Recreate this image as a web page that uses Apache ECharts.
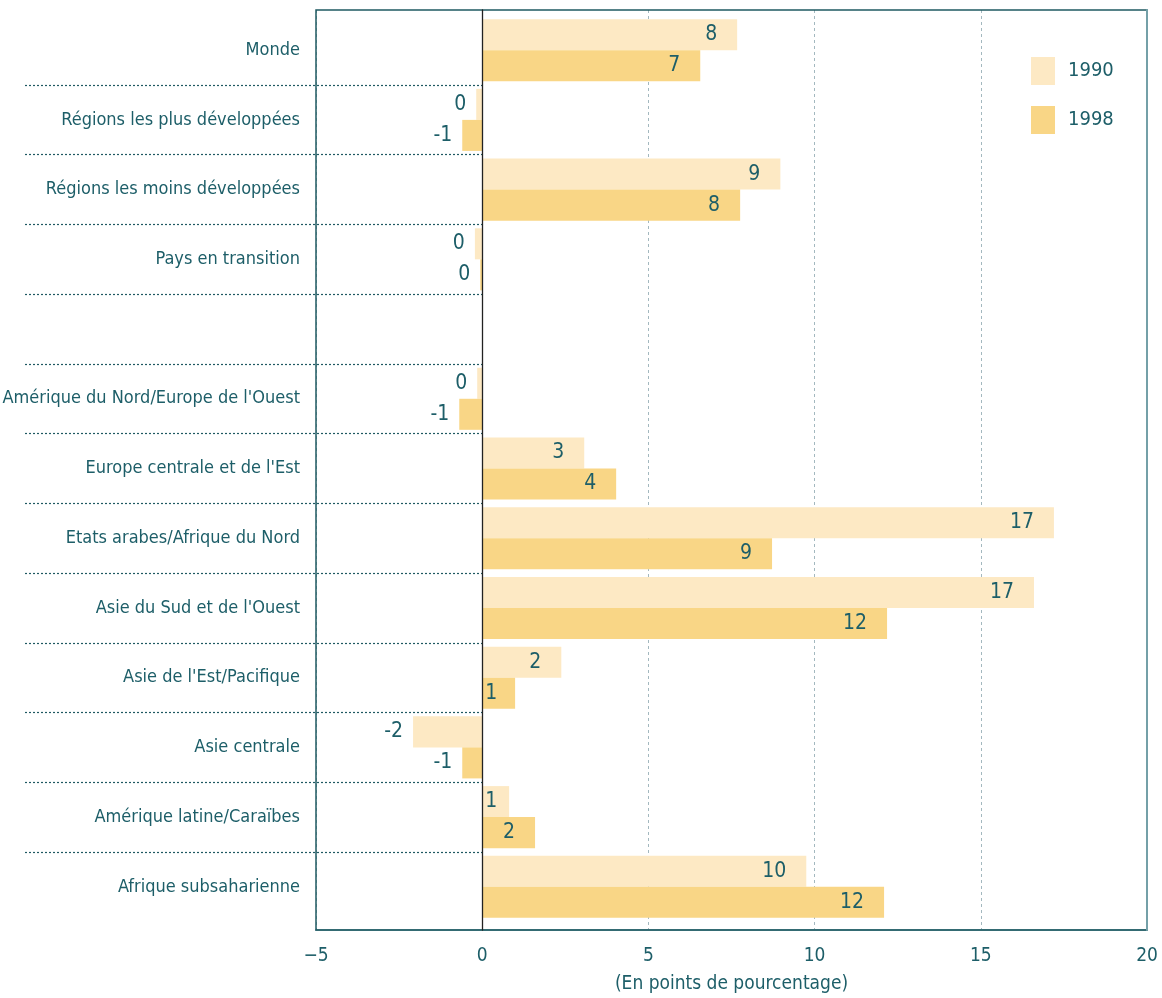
<!DOCTYPE html>
<html><head><meta charset="utf-8">
<script src="https://cdn.jsdelivr.net/npm/echarts@6/dist/echarts.min.js"></script>
<style>html,body{margin:0;padding:0;background:#fff}#c{width:1162px;height:998px}</style>
</head><body><div id="c"></div>
<script>
const categories = [
  "Monde",
  "Régions les plus développées",
  "Régions les moins développées",
  "Pays en transition",
  "",
  "Amérique du Nord/Europe de l'Ouest",
  "Europe centrale et de l'Est",
  "Etats arabes/Afrique du Nord",
  "Asie du Sud et de l'Ouest",
  "Asie de l'Est/Pacifique",
  "Asie centrale",
  "Amérique latine/Caraïbes",
  "Afrique subsaharienne"
];
const values1990 = [7.67, -0.18, 8.97, -0.22, null, -0.15, 3.07, 17.2, 16.6, 2.38, -2.08, 0.81, 9.75];
const values1998 = [6.56, -0.6, 7.76, -0.06, null, -0.69, 4.03, 8.72, 12.18, 0.99, -0.6, 1.59, 12.09];
const seriesNames = ["1990", "1998"];
const xMin = -5, xMax = 20, xInterval = 5;
const axisTitle = "(En points de pourcentage)";

const FONT = "'DejaVu Sans Condensed', 'Noto Sans', sans-serif";
const TEXT = '#1d5e68';
const frame = {left: 316, right: 15, top: 10, bottom: 68};
const W = 1162, H = 998;
const plotW = W - frame.left - frame.right;
const pxPerUnit = plotW / (xMax - xMin);
const zeroX = frame.left + (0 - xMin) * pxPerUnit;
// category band geometry (slightly inset inside the frame)
const dataTop = 15.3, dataBottom = 921.7;
const rowH = (dataBottom - dataTop) / categories.length;

function buildData(vals) {
  return vals.map(v => {
    if (v == null) return null;
    if (v < 0) return {value: v, label: {position: 'left', distance: 10}};
    const barLen = v * pxPerUnit;
    const txtW = String(Math.round(v)).length * 12;
    return {value: v, label: {position: 'insideRight', distance: Math.max(4, Math.min(20, barLen - txtW - 3))}};
  });
}

const chart = echarts.init(document.getElementById('c'), null, {renderer: 'canvas'});
chart.setOption({
  animation: false,
  backgroundColor: '#fff',
  textStyle: {fontFamily: FONT},
  grid: [
    {left: frame.left, right: frame.right, top: frame.top, bottom: frame.bottom, show: true,
     borderColor: '#1f5962', borderWidth: 1.5, backgroundColor: 'transparent', z: 10,
     outerBoundsMode: 'none', containLabel: false},
    {left: frame.left, right: frame.right, top: dataTop, height: dataBottom - dataTop,
     outerBoundsMode: 'none', containLabel: false},
    {left: 25, width: zeroX - 25, top: dataTop + rowH, height: rowH * (categories.length - 2),
     outerBoundsMode: 'none', containLabel: false}
  ],
  legend: {
    data: seriesNames, orient: 'vertical', left: 1026, top: 52,
    itemWidth: 24, itemHeight: 28, itemGap: 21, icon: 'rect',
    textStyle: {fontSize: 20, color: TEXT, fontFamily: FONT, padding: [0, 0, 0, 8]}
  },
  xAxis: [
    {gridIndex: 0, type: 'value', min: xMin, max: xMax, interval: xInterval,
     axisLine: {show: true, lineStyle: {color: '#74a0a8', width: 2}},
     axisTick: {show: false},
     axisLabel: {fontSize: 19, color: TEXT, margin: 17, fontFamily: FONT,
       formatter: v => (v < 0 ? '\u2212' + Math.abs(v) : String(v))},
     splitLine: {show: true, lineStyle: {color: '#a3b8bf', type: [3, 3], width: 1}},
     name: axisTitle, nameLocation: 'middle', nameGap: 45,
     nameTextStyle: {fontSize: 19, color: TEXT, fontFamily: FONT}},
    {gridIndex: 1, type: 'value', min: xMin, max: xMax, interval: xInterval, show: false},
    {gridIndex: 2, type: 'value', min: xMin, max: 0, show: false}
  ],
  yAxis: [
    {gridIndex: 0, type: 'value', min: 0, max: 1, axisLine: {show: true, onZero: true, lineStyle: {color: '#222', width: 1.3}},
     axisLabel: {show: false}, axisTick: {show: false}, splitLine: {show: false}, z: 11},
    {gridIndex: 0, type: 'value', min: 0, max: 1, position: 'right',
     axisLine: {show: true, onZero: false, lineStyle: {color: '#74a0a8', width: 2}},
     axisLabel: {show: false}, axisTick: {show: false}, splitLine: {show: false}, z: 11},
    {gridIndex: 1, type: 'category', data: categories, inverse: true,
     axisLine: {show: false}, axisTick: {show: false},
     axisLabel: {fontSize: 18, color: TEXT, margin: 16, fontFamily: FONT}},
    {gridIndex: 2, type: 'value', min: 1, max: categories.length - 1, interval: 1, inverse: true,
     axisLine: {show: false}, axisTick: {show: false}, axisLabel: {show: false},
     splitLine: {show: true, lineStyle: {color: '#1f5962', type: [2, 2], width: 1.2}}}
  ],
  series: [
    {name: seriesNames[0], type: 'bar', xAxisIndex: 1, yAxisIndex: 2,
     data: buildData(values1990), barGap: '0%', barCategoryGap: '11%',
     itemStyle: {color: '#fde9c4'},
     label: {show: true, fontSize: 21, color: TEXT, fontFamily: FONT,
       formatter: p => String(Math.round(p.value))}},
    {name: seriesNames[1], type: 'bar', xAxisIndex: 1, yAxisIndex: 2,
     data: buildData(values1998), barGap: '0%', barCategoryGap: '11%',
     itemStyle: {color: '#f9d686'},
     label: {show: true, fontSize: 21, color: TEXT, fontFamily: FONT,
       formatter: p => String(Math.round(p.value))}}
  ]
});
</script>
</body></html>
